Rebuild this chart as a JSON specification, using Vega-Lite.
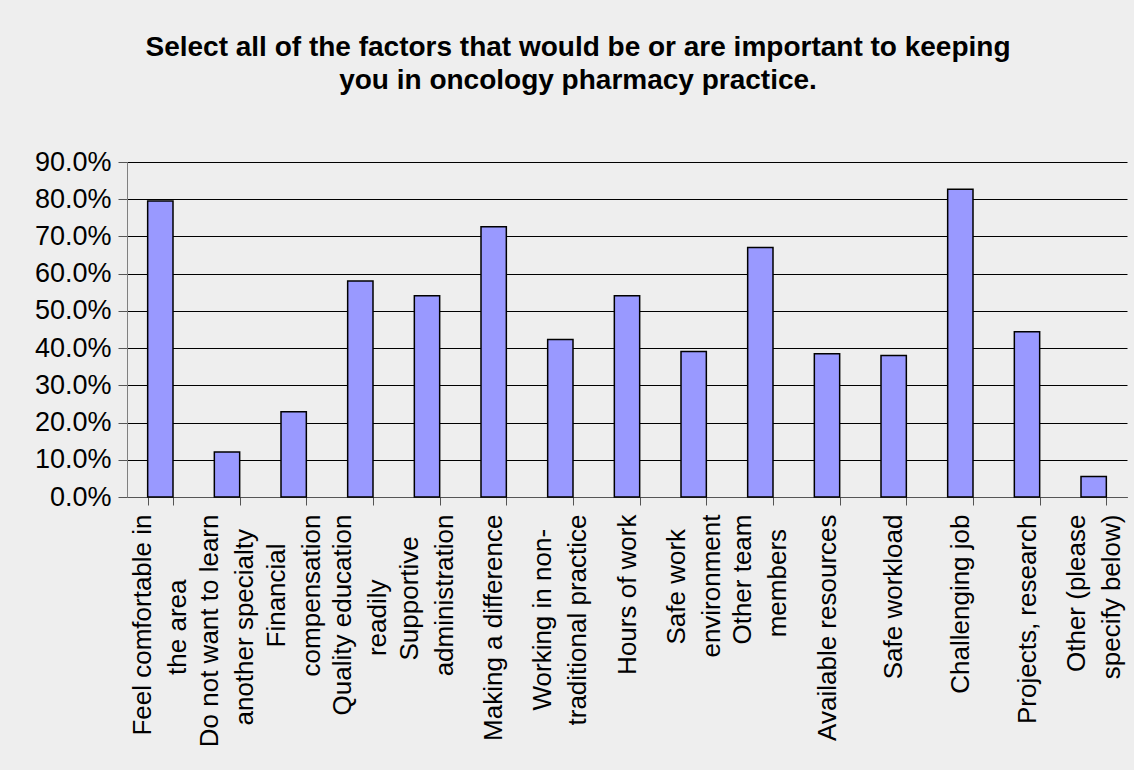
{
  "$schema": "https://vega.github.io/schema/vega-lite/v6.json",
  "width": 1000,
  "height": 335,
  "autosize": {"type": "none"},
  "padding": {"left": 127, "top": 162, "right": 7, "bottom": 273},
  "background": "#EEEEEE",
  "title": {
    "text": ["Select all of the factors that would be or are important to keeping", "you in oncology pharmacy practice."],
    "font": "Liberation Sans",
    "fontSize": 28,
    "fontWeight": "bold",
    "lineHeight": 33,
    "anchor": "middle",
    "frame": "group",
    "dx": -49,
    "offset": 53,
    "color": "black"
  },
  "data": {
    "values": [
      {"factor": "Feel comfortable in\nthe area", "pct": 0.795},
      {"factor": "Do not want to learn\nanother specialty", "pct": 0.121},
      {"factor": "Financial\ncompensation", "pct": 0.229},
      {"factor": "Quality education\nreadily", "pct": 0.580},
      {"factor": "Supportive\nadministration", "pct": 0.541},
      {"factor": "Making a difference", "pct": 0.726},
      {"factor": "Working in non-\ntraditional practice", "pct": 0.423},
      {"factor": "Hours of work", "pct": 0.541},
      {"factor": "Safe work\nenvironment", "pct": 0.391},
      {"factor": "Other team\nmembers", "pct": 0.670},
      {"factor": "Available resources", "pct": 0.385},
      {"factor": "Safe workload", "pct": 0.380},
      {"factor": "Challenging job", "pct": 0.827},
      {"factor": "Projects, research", "pct": 0.444},
      {"factor": "Other (please\nspecify below)", "pct": 0.055}
    ]
  },
  "mark": {"type": "bar", "fill": "#9999FF", "stroke": "black", "strokeWidth": 1.5},
  "encoding": {
    "x": {
      "field": "factor",
      "type": "nominal",
      "sort": null,
      "scale": {"paddingInner": 0.62, "paddingOuter": 0.31},
      "axis": {
        "title": null,
        "labelAngle": 270,
        "labelAlign": "right",
        "labelBaseline": "middle",
        "labelFont": "Liberation Sans",
        "labelFontSize": 26,
        "labelLineHeight": 35,
        "labelColor": "black",
        "labelPadding": 9,
        "labelLimit": 400,
        "labelOverlap": false,
        "labelOffset": {"condition": {"test": "indexof(datum.label, '\\n') >= 0", "value": -17.5}, "value": 0},
        "labelExpr": "indexof(datum.label, 'Feel') == 0 ? ['Feel comfortable in', 'the area\u00a0\u00a0\u00a0\u00a0\u00a0\u00a0\u00a0\u00a0\u00a0\u200b'] : indexof(datum.label, 'Do not') == 0 ? ['Do not want to learn', 'another specialty\u00a0\u00a0\u200b'] : indexof(datum.label, 'Financial') == 0 ? ['Financial\u00a0\u00a0\u00a0\u00a0\u200b', 'compensation'] : indexof(datum.label, 'Quality') == 0 ? ['Quality education', 'readily\u00a0\u00a0\u00a0\u00a0\u00a0\u00a0\u00a0\u00a0\u00a0\u200b'] : indexof(datum.label, 'Supportive') == 0 ? ['Supportive\u00a0\u00a0\u00a0\u200b', 'administration'] : indexof(datum.label, 'Working') == 0 ? ['Working in non-\u00a0\u00a0\u200b', 'traditional practice'] : indexof(datum.label, 'Safe work\\n') == 0 ? ['Safe work\u00a0\u00a0\u200b', 'environment'] : indexof(datum.label, 'Other team') == 0 ? ['Other team', 'members\u00a0\u00a0\u200b'] : split(datum.label, '\\n')",
        "tickSize": 8,
        "tickBand": "extent",
        "tickColor": "#555555",
        "domainColor": "#555555"
      }
    },
    "y": {
      "field": "pct",
      "type": "quantitative",
      "scale": {"domain": [0, 0.9], "nice": false},
      "axis": {
        "title": null,
        "values": [0, 0.1, 0.2, 0.3, 0.4, 0.5, 0.6, 0.7, 0.8, 0.9],
        "format": ".1%",
        "labelFont": "Liberation Sans",
        "labelFontSize": 27,
        "labelColor": "black",
        "labelPadding": 7,
        "tickSize": 9,
        "tickColor": "#555555",
        "domainColor": "#808080",
        "grid": true,
        "gridColor": "black",
        "gridWidth": 1
      }
    }
  },
  "config": {"view": {"stroke": null}}
}
